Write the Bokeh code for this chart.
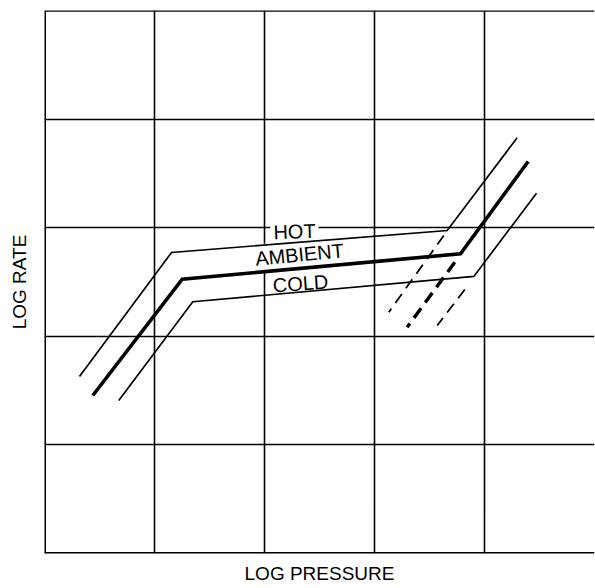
from bokeh.plotting import figure
from bokeh.models import Range1d, FixedTicker, Span, ColumnDataSource
from bokeh.core.properties import value
from bokeh.embed import file_html
from bokeh.resources import INLINE

# Curves in grid units (x: log pressure, y: log rate)
hot_x = [0.318, 1.155, 3.661, 4.297]
hot_y = [1.630, 2.772, 2.974, 3.828]
hot_ext_x = [3.630, 3.130]
hot_ext_y = [2.928, 2.222]

amb_x = [0.439, 1.252, 3.782, 4.397]
amb_y = [1.455, 2.526, 2.760, 3.610]
amb_ext_x = [3.730, 3.297]
amb_ext_y = [2.682, 2.084]

cold_x = [0.675, 1.348, 3.903, 4.473]
cold_y = [1.409, 2.318, 2.551, 3.318]
cold_ext_x = [3.821, 3.570]
cold_ext_y = [2.431, 2.099]

label_text = ["HOT", "AMBIENT", "COLD"]
label_x = [2.273, 2.318, 2.327]
label_y = [2.965, 2.753, 2.486]
label_angle = [2.0, 5.5, 4.0]

grid_ticks = [1, 2, 3, 4]
x_title = "LOG PRESSURE"
y_title = "LOG RATE"

FONT = "Liberation Sans"

p = figure(width=595, height=588, output_backend="svg", toolbar_location=None,
           x_range=Range1d(0, 5), y_range=Range1d(0, 5),
           min_border_left=44, min_border_right=1, min_border_top=10, min_border_bottom=35)
p.outline_line_color = None
p.background_fill_color = "white"
p.border_fill_color = "white"

for ax in (p.xaxis[0], p.yaxis[0]):
    ax.ticker = FixedTicker(ticks=[])
    ax.axis_line_color = None
    ax.major_tick_line_color = None
    ax.minor_tick_line_color = None
    ax.major_tick_out = 0
    ax.major_tick_in = 0
    ax.major_label_standoff = 0
    ax.axis_label_text_font = FONT
    ax.axis_label_text_font_size = "19px"
    ax.axis_label_text_font_style = "normal"
    ax.axis_label_text_color = "black"
p.xaxis.axis_label = x_title
p.yaxis.axis_label = y_title
p.xaxis.axis_label_standoff = 9
p.yaxis.axis_label_standoff = 15

p.xgrid.ticker = FixedTicker(ticks=grid_ticks)
p.ygrid.ticker = FixedTicker(ticks=grid_ticks)
for g in (p.xgrid[0], p.ygrid[0]):
    g.grid_line_color = "black"
    g.grid_line_width = 1.6
    g.grid_line_alpha = 1.0

# frame borders (left, bottom, top)
p.add_layout(Span(location=0, dimension="height", line_color="black", line_width=3))
p.add_layout(Span(location=0, dimension="width", line_color="black", line_width=3))
p.add_layout(Span(location=5, dimension="width", line_color="black", line_width=2.5))

# labels with white boxes covering the grid
lab = ColumnDataSource(dict(x=label_x, y=label_y, text=label_text, angle=label_angle))
p.text(x="x", y="y", text="text", angle="angle", angle_units="deg", source=lab,
       text_align="center", text_baseline="middle", text_color="black",
       text_font=value(FONT), text_font_size=value("20px"),
       background_fill_color="white", padding=3)

# curves
p.line(hot_x, hot_y, line_color="black", line_width=1.7, line_join="miter")
p.line(amb_x, amb_y, line_color="black", line_width=3.6, line_join="miter")
p.line(cold_x, cold_y, line_color="black", line_width=1.7, line_join="miter")
p.line(hot_ext_x, hot_ext_y, line_color="black", line_width=1.8, line_dash="11 7")
p.line(amb_ext_x, amb_ext_y, line_color="black", line_width=3.4, line_dash="12 7")
p.line(cold_ext_x, cold_ext_y, line_color="black", line_width=1.8, line_dash="11 7")

open("out.html", "w").write(file_html(p, INLINE))
